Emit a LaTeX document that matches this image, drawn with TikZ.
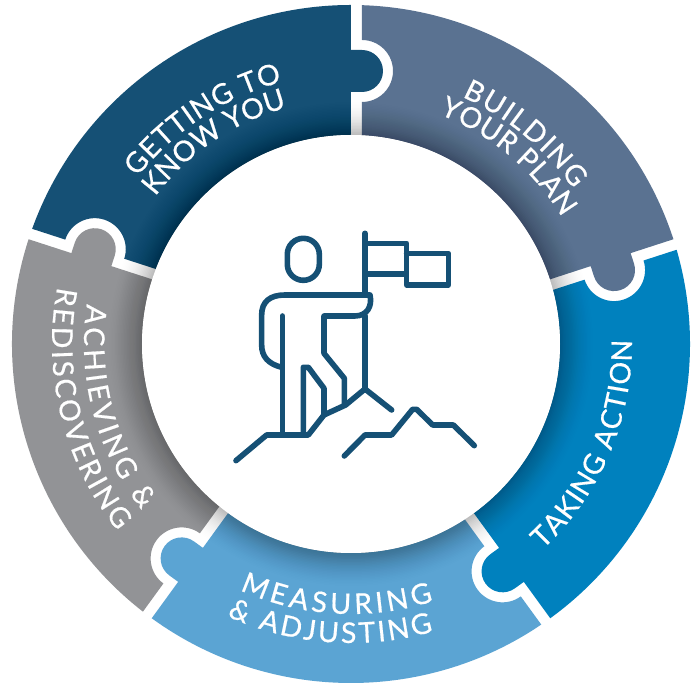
\documentclass[tikz,border=0pt]{standalone}
\usepackage{fontspec}
\setmainfont{Lato}
\newfontfamily\ringfam{Lato}[FakeBold=0.6]
\usetikzlibrary{decorations.text}
\definecolor{cdark}{RGB}{21,80,117}
\definecolor{cslate}{RGB}{90,114,145}
\definecolor{cbright}{RGB}{0,129,190}
\definecolor{clight}{RGB}{91,164,211}
\definecolor{cgrey}{RGB}{146,147,150}
\newcommand{\puzzlepiece}{(0,209) -- (0,252) -- (11,252) arc[start angle=-90,end angle=90,radius=21] -- (0,294) -- (0,339)
  arc[start angle=90,end angle=160.14,radius=339]
  -- ([rotate=72]11,304) arc[start angle=162,end angle=-18,radius=31]
  -- ([rotate=72]11,208.7) arc[start angle=158.98,end angle=90,radius=209] -- cycle}
\newcommand{\ringfont}{\ringfam\fontsize{28.5}{28.5}\selectfont\color{white}}
\tikzset{
  ringtext/.style={decorate,decoration={text along path,text align={fit to path},text={|\ringfont|#1}}},
  icon/.style={draw=cdark,line width=5.6pt,line cap=round,line join=round}
}
\begin{document}
\begin{tikzpicture}[x=1pt,y=1pt]
\useasboundingbox (-351,-340) rectangle (348,344);
\fill[white] (-351,-340) rectangle (348,344);
% puzzle ring
\fill[cdark,rotate=0] \puzzlepiece;
\fill[cslate,rotate=-72] \puzzlepiece;
\fill[cbright,rotate=-144] \puzzlepiece;
\fill[clight,rotate=-216] \puzzlepiece;
\fill[cgrey,rotate=-288] \puzzlepiece;
% soft shadow of the centre disc
\foreach \d in {0,1.5,...,36}{
  \pgfmathsetmacro{\op}{0.022*(1-\d/37)}
  \pgfmathsetmacro{\rr}{209+\d}
  \fill[black,opacity=\op] (0,0) circle[radius=\rr];
}
\fill[white] (0,0) circle[radius=209];
% labels
\path[ringtext={GETTING TO}] (142:271) arc[start angle=142,end angle=104.7,radius=271];
\path[ringtext={KNOW YOU}] (143:245) arc[start angle=143,end angle=105.2,radius=245];
\path[ringtext={BUILDING}] (65.8:271) arc[start angle=65.8,end angle=34.9,radius=271];
\path[ringtext={YOUR PLAN}] (69:246) arc[start angle=69,end angle=31,radius=246];
\path[ringtext={TAKING ACTION}] (-47:281) arc[start angle=-47,end angle=0.8,radius=281];
\path[ringtext={MEASURING}] (245.7:270) arc[start angle=245.7,end angle=287.8,radius=270];
\path[ringtext={{\&} ADJUSTING}] (245.5:299) arc[start angle=245.5,end angle=286,radius=299];
\path[ringtext={ACHIEVING {\&}}] (171.4:267) arc[start angle=171.4,end angle=218.4,radius=267];
\path[ringtext={REDISCOVERING}] (169:299) arc[start angle=169,end angle=218.7,radius=299];
% climber icon
\begin{scope}[shift={(-151,134)},x=0.3333pt,y=-0.3333pt]
\draw[icon,rounded corners=16pt] (262,85) rectangle (358,211);
\draw[icon] (495,70) -- (495,248);
\draw[icon] (495,100) -- (620,100) -- (620,192) -- (495,192);
\draw[icon] (620,130) -- (745,130) -- (745,225) -- (620,225) -- (620,192);
\draw[icon] (245,472) .. controls (205,462) and (185,440) .. (185,405) -- (185,315)
  .. controls (185,275) and (210,255) .. (255,255) -- (510,255)
  .. controls (518,290) and (500,318) .. (465,318) -- (372,318) -- (372,430) -- (433,505) -- (433,582);
\draw[icon] (495,318) -- (495,535);
\draw[icon] (247,318) -- (247,672);
\draw[icon] (310,672) -- (310,472) -- (325,472) -- (372,535) -- (372,612);
\draw[icon] (108,752) -- (200,675) -- (325,675) -- (372,615) -- (437,585) -- (495,537) -- (575,600);
\draw[icon] (433,738) -- (495,675) -- (575,675) -- (638,598) -- (650,598) -- (698,645) -- (760,645) -- (823,707);
\end{scope}
\end{tikzpicture}
\end{document}
